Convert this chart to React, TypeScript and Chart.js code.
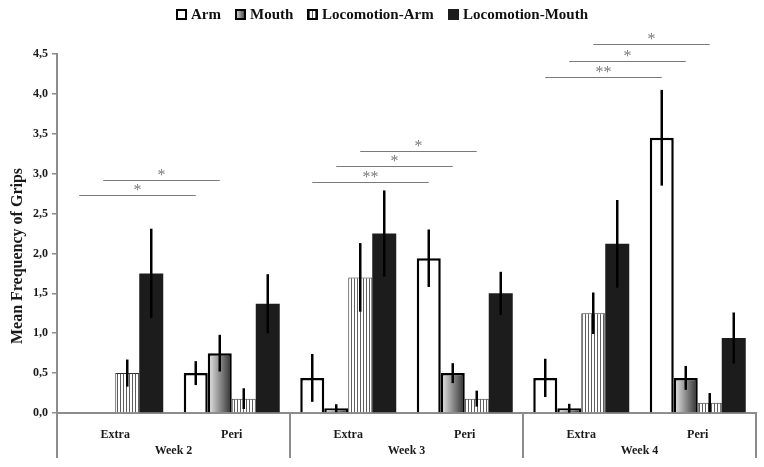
import React, { useEffect, useRef } from 'react';
import { Chart, registerables } from 'chart.js';

Chart.register(...registerables);

// ---------- data ----------
const categories = ['Extra', 'Peri', 'Extra', 'Peri', 'Extra', 'Peri'];
const weeks = ['Week 2', 'Week 3', 'Week 4'];
const seriesNames = ['Arm', 'Mouth', 'Locomotion-Arm', 'Locomotion-Mouth'];

const armValues = [0, 0.5, 0.44, 1.94, 0.44, 3.45];
const mouthValues = [0, 0.75, 0.06, 0.5, 0.06, 0.44];
const locArmValues = [0.5, 0.18, 1.7, 0.18, 1.25, 0.13];
const locMouthValues = [1.75, 1.37, 2.25, 1.5, 2.12, 0.94];

const armErrors = [0, 0.15, 0.3, 0.36, 0.24, 0.6];
const mouthErrors = [0, 0.23, 0.05, 0.125, 0.055, 0.15];
const locArmErrors = [0.17, 0.13, 0.43, 0.1, 0.26, 0.12];
const locMouthErrors = [0.56, 0.37, 0.54, 0.27, 0.55, 0.32];

// significance brackets: from category index (to = from + 1), series index, level, label
const sigFrom = [0, 0, 2, 2, 2, 4, 4, 4];
const sigSeries = [0, 1, 0, 1, 2, 0, 1, 2];
const sigLevel = [2.73, 2.92, 2.89, 3.09, 3.28, 4.21, 4.41, 4.63];
const sigLabel = ['*', '*', '**', '*', '*', '**', '*', '*'];

const yTitle = 'Mean Frequency of Grips';

const FONT = '"Liberation Serif", "Times New Roman", serif';
const AXIS_GRAY = '#8c8c8c';

const allValues = [armValues, mouthValues, locArmValues, locMouthValues];
const allErrors = [armErrors, mouthErrors, locArmErrors, locMouthErrors];

function makeStripePattern(ctx: CanvasRenderingContext2D): CanvasPattern | string {
  const c = document.createElement('canvas');
  c.width = 3;
  c.height = 4;
  const g = c.getContext('2d');
  if (!g) return '#ddd';
  g.fillStyle = '#ffffff';
  g.fillRect(0, 0, 3, 4);
  g.fillStyle = '#5e5e5e';
  g.fillRect(0, 0, 1, 4);
  return ctx.createPattern(c, 'repeat') || '#ddd';
}

function mouthGradient(ctx: CanvasRenderingContext2D, x0: number, x1: number) {
  const g = ctx.createLinearGradient(x0, 0, x1, 0);
  g.addColorStop(0, '#ececec');
  g.addColorStop(1, '#2e2e2e');
  return g;
}

export default function App() {
  const canvasRef = useRef<HTMLCanvasElement | null>(null);

  useEffect(() => {
    document.body.style.margin = '0';
    const canvas = canvasRef.current;
    if (!canvas) return;
    const ctx0 = canvas.getContext('2d') as CanvasRenderingContext2D;
    const stripe = makeStripePattern(ctx0);

    const gradientPlugin = {
      id: 'mouthGradient',
      beforeDatasetDraw(chart: any, args: any) {
        if (args.index !== 1) return;
        const ctx = chart.ctx;
        const meta = chart.getDatasetMeta(1);
        meta.data.forEach((el: any) => {
          const g = mouthGradient(ctx, el.x - el.width / 2, el.x + el.width / 2);
          el.options = Object.assign({}, el.options, { backgroundColor: g });
        });
      },
    };

    const decorPlugin = {
      id: 'decor',
      afterDatasetsDraw(chart: any) {
        const ctx = chart.ctx;
        const y = chart.scales.y;
        // error bars
        ctx.save();
        ctx.strokeStyle = '#000';
        ctx.lineWidth = 2.5;
        allValues.forEach((vals, i) => {
          const meta = chart.getDatasetMeta(i);
          vals.forEach((v, j) => {
            const e = allErrors[i][j];
            if (!e) return;
            const el = meta.data[j];
            const top = y.getPixelForValue(v + e);
            const bot = y.getPixelForValue(Math.max(0, v - e));
            ctx.beginPath();
            ctx.moveTo(el.x, top);
            ctx.lineTo(el.x, bot);
            ctx.stroke();
          });
        });
        ctx.restore();
      },
      afterDraw(chart: any) {
        const ctx = chart.ctx;
        const area = chart.chartArea;
        const y = chart.scales.y;
        const bottomEnd = 458;

        // group dividers and week labels
        ctx.save();
        ctx.strokeStyle = AXIS_GRAY;
        ctx.lineWidth = 2;
        const w = (area.right - area.left) / weeks.length;
        for (let k = 0; k <= weeks.length; k++) {
          const x = Math.round(area.left + k * w);
          ctx.beginPath();
          ctx.moveTo(x, area.bottom);
          ctx.lineTo(x, bottomEnd);
          ctx.stroke();
        }
        ctx.fillStyle = '#1a1a1a';
        ctx.font = `bold 12px ${FONT}`;
        ctx.textAlign = 'center';
        ctx.textBaseline = 'middle';
        weeks.forEach((wk, k) => {
          ctx.fillText(wk, area.left + (k + 0.5) * w, 451);
        });
        ctx.restore();

        // significance brackets
        ctx.save();
        ctx.strokeStyle = '#7a7a7a';
        ctx.lineWidth = 1;
        ctx.fillStyle = '#7a7a7a';
        ctx.font = `16px ${FONT}`;
        ctx.textAlign = 'center';
        ctx.textBaseline = 'alphabetic';
        sigFrom.forEach((from, k) => {
          const meta = chart.getDatasetMeta(sigSeries[k]);
          const x1 = meta.data[from].x;
          const x2 = meta.data[from + 1].x;
          const yy = Math.round(y.getPixelForValue(sigLevel[k])) + 0.5;
          ctx.beginPath();
          ctx.moveTo(x1, yy);
          ctx.lineTo(x2, yy);
          ctx.stroke();
          ctx.fillText(sigLabel[k], (x1 + x2) / 2, yy - 1);
        });
        ctx.restore();

        // y title
        ctx.save();
        ctx.translate(18, (area.top + bottomEnd) / 2);
        ctx.rotate(-Math.PI / 2);
        ctx.fillStyle = '#1a1a1a';
        ctx.font = `bold 16px ${FONT}`;
        ctx.textAlign = 'center';
        ctx.textBaseline = 'middle';
        ctx.fillText(yTitle, 0, 0);
        ctx.restore();

        // legend
        ctx.save();
        ctx.font = `bold 15px ${FONT}`;
        ctx.textBaseline = 'middle';
        ctx.textAlign = 'left';
        const box = 11;
        const gap = 4;
        const itemGap = 14;
        const widths = seriesNames.map((n) => ctx.measureText(n).width);
        const total = widths.reduce((a, b) => a + b, 0) + seriesNames.length * (box + gap) + itemGap * (seriesNames.length - 1);
        let x = chart.width / 2 - total / 2;
        const cy = 14;
        seriesNames.forEach((n, i) => {
          const bx = Math.round(x);
          const by = Math.round(cy - box / 2);
          if (i === 0) ctx.fillStyle = '#ffffff';
          else if (i === 1) ctx.fillStyle = mouthGradient(ctx, bx, bx + box);
          else if (i === 2) ctx.fillStyle = stripe as any;
          else ctx.fillStyle = '#1c1c1c';
          ctx.fillRect(bx, by, box, box);
          if (i < 3) {
            ctx.strokeStyle = '#000';
            ctx.lineWidth = 2;
            ctx.strokeRect(bx + 1, by + 1, box - 2, box - 2);
          }
          ctx.fillStyle = '#111';
          ctx.fillText(n, bx + box + gap, cy + 1);
          x += box + gap + widths[i] + itemGap;
        });
        ctx.restore();
      },
    };

    const chart = new Chart(canvas, {
      type: 'bar',
      data: {
        labels: categories,
        datasets: [
          {
            label: seriesNames[0],
            data: armValues,
            backgroundColor: '#ffffff',
            borderColor: '#000000',
            borderWidth: 2.5,
          },
          {
            label: seriesNames[1],
            data: mouthValues,
            backgroundColor: '#888888',
            borderColor: '#000000',
            borderWidth: 2.5,
          },
          {
            label: seriesNames[2],
            data: locArmValues,
            backgroundColor: stripe as any,
            borderColor: '#333333',
            borderWidth: 1,
          },
          {
            label: seriesNames[3],
            data: locMouthValues,
            backgroundColor: '#1c1c1c',
            borderWidth: 0,
          },
        ],
      },
      options: {
        responsive: false,
        animation: false,
        devicePixelRatio: 1,
        layout: { padding: { left: 0, right: 8, top: 54, bottom: 0 } },
        datasets: {
          bar: { barPercentage: 1, categoryPercentage: 0.824 },
        },
        plugins: {
          legend: { display: false },
          tooltip: { enabled: false },
          title: { display: false },
        },
        scales: {
          x: {
            type: 'category',
            offset: true,
            grid: { display: false },
            border: { display: true, color: AXIS_GRAY, width: 2 },
            ticks: {
              font: { family: FONT, size: 12, weight: 'bold' },
              color: '#1a1a1a',
              padding: 7,
              maxRotation: 0,
              autoSkip: false,
            },
            afterFit: (s: any) => {
              s.height = 54;
            },
          },
          y: {
            min: 0,
            max: 4.5,
            ticks: {
              stepSize: 0.5,
              font: { family: FONT, size: 12, weight: 'bold' },
              color: '#1a1a1a',
              padding: 4,
              callback: (v: any) => Number(v).toFixed(1).replace('.', ','),
            },
            grid: {
              display: true,
              drawOnChartArea: false,
              drawTicks: true,
              tickLength: 5,
              color: AXIS_GRAY,
              lineWidth: 1.5,
            },
            border: { display: true, color: AXIS_GRAY, width: 2 },
            afterFit: (s: any) => {
              s.width = 57;
            },
          },
        },
      } as any,
      plugins: [gradientPlugin, decorPlugin],
    });

    return () => {
      chart.destroy();
    };
  }, []);

  return (
    <div style={{ width: 764, height: 467, background: '#ffffff' }}>
      <canvas ref={canvasRef} width={764} height={467} style={{ display: 'block' }} />
    </div>
  );
}
